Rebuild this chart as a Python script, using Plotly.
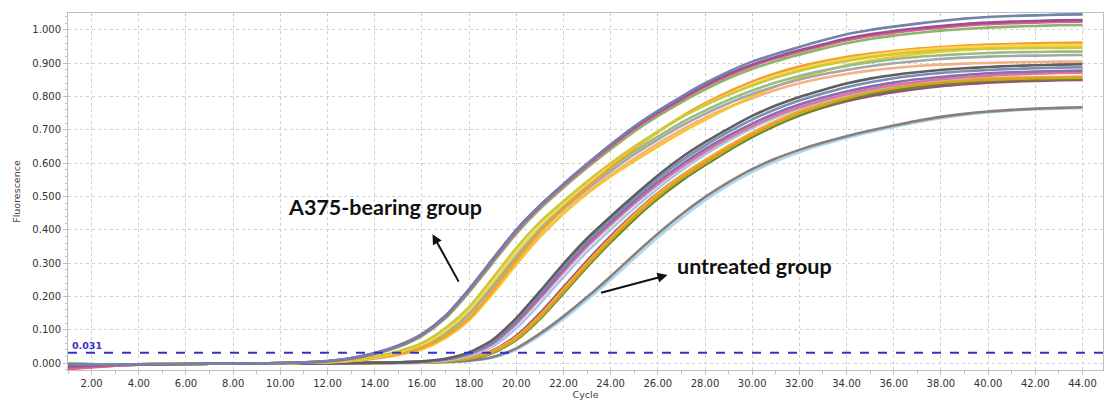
import plotly.graph_objects as go

cycles = list(range(1, 45))

# ---- A375-bearing group ----
a1_slate = [-0.004,-0.005,-0.005,-0.004,-0.003,-0.003,-0.002,-0.002,-0.001,0.000,0.002,0.006,0.014,0.029,0.051,0.085,0.140,0.220,0.310,0.398,0.472,0.537,0.598,0.656,0.710,0.757,0.800,0.840,0.875,0.905,0.928,0.949,0.969,0.987,1.000,1.010,1.019,1.027,1.034,1.039,1.042,1.044,1.046,1.047]
a1_purple = [-0.010,-0.008,-0.006,-0.005,-0.004,-0.003,-0.002,-0.002,-0.001,0.000,0.002,0.006,0.015,0.030,0.053,0.087,0.142,0.222,0.312,0.400,0.473,0.537,0.597,0.654,0.707,0.753,0.795,0.834,0.868,0.896,0.919,0.939,0.957,0.974,0.987,0.997,1.005,1.012,1.018,1.022,1.025,1.027,1.029,1.030]
a1_pink = [-0.018,-0.013,-0.008,-0.005,-0.004,-0.003,-0.002,-0.002,-0.001,0.000,0.002,0.005,0.013,0.028,0.050,0.084,0.138,0.217,0.306,0.394,0.468,0.532,0.592,0.649,0.702,0.748,0.790,0.829,0.863,0.892,0.915,0.935,0.953,0.969,0.982,0.992,1.000,1.007,1.013,1.017,1.020,1.022,1.024,1.025]
a1_green = [-0.002,-0.003,-0.004,-0.004,-0.003,-0.003,-0.002,-0.002,-0.001,0.000,0.002,0.005,0.013,0.027,0.048,0.081,0.134,0.212,0.300,0.388,0.462,0.526,0.586,0.642,0.695,0.741,0.783,0.821,0.855,0.883,0.906,0.926,0.944,0.960,0.973,0.983,0.991,0.998,1.003,1.007,1.010,1.012,1.014,1.015]
a2_yellowgreen = [-0.005,-0.005,-0.004,-0.004,-0.003,-0.003,-0.002,-0.002,-0.001,0.000,0.001,0.004,0.009,0.019,0.035,0.060,0.105,0.168,0.255,0.345,0.423,0.486,0.545,0.600,0.650,0.695,0.738,0.774,0.805,0.833,0.857,0.877,0.894,0.907,0.918,0.927,0.934,0.939,0.942,0.944,0.945,0.946,0.946,0.947]
a2_yellow = [-0.006,-0.005,-0.005,-0.004,-0.003,-0.003,-0.002,-0.002,-0.001,0.000,0.001,0.003,0.008,0.017,0.032,0.055,0.097,0.158,0.243,0.332,0.412,0.478,0.540,0.597,0.648,0.695,0.738,0.775,0.807,0.836,0.861,0.882,0.899,0.913,0.924,0.933,0.940,0.945,0.949,0.951,0.953,0.954,0.955,0.955]
a2_orange = [-0.008,-0.007,-0.006,-0.005,-0.004,-0.003,-0.002,-0.002,-0.001,0.000,0.001,0.003,0.007,0.015,0.027,0.046,0.081,0.135,0.218,0.308,0.392,0.463,0.528,0.588,0.643,0.693,0.740,0.780,0.815,0.845,0.870,0.890,0.906,0.919,0.929,0.937,0.944,0.949,0.953,0.956,0.958,0.960,0.961,0.962]
a2_green = [-0.003,-0.004,-0.004,-0.004,-0.003,-0.003,-0.002,-0.002,-0.001,0.000,0.001,0.003,0.008,0.016,0.030,0.052,0.092,0.152,0.236,0.325,0.404,0.470,0.530,0.585,0.635,0.680,0.722,0.758,0.790,0.818,0.842,0.862,0.878,0.892,0.903,0.912,0.919,0.924,0.928,0.931,0.933,0.934,0.935,0.935]
a2_gray = [-0.004,-0.004,-0.004,-0.004,-0.003,-0.003,-0.002,-0.002,-0.001,0.000,0.001,0.003,0.007,0.015,0.029,0.050,0.088,0.147,0.230,0.318,0.397,0.462,0.522,0.576,0.626,0.671,0.712,0.748,0.780,0.808,0.831,0.851,0.867,0.880,0.891,0.900,0.907,0.913,0.917,0.920,0.922,0.923,0.924,0.925]
a3_golden = [-0.006,-0.006,-0.005,-0.004,-0.003,-0.003,-0.002,-0.002,-0.001,0.000,0.001,0.002,0.006,0.013,0.024,0.041,0.075,0.128,0.208,0.296,0.378,0.448,0.508,0.560,0.606,0.650,0.692,0.730,0.766,0.800,0.830,0.855,0.876,0.894,0.908,0.919,0.928,0.935,0.940,0.944,0.947,0.949,0.950,0.951]
a3_lightorange = [-0.007,-0.006,-0.005,-0.004,-0.003,-0.003,-0.002,-0.002,-0.001,0.000,0.001,0.003,0.007,0.014,0.026,0.044,0.078,0.130,0.210,0.298,0.380,0.450,0.511,0.565,0.614,0.659,0.700,0.737,0.768,0.795,0.820,0.840,0.856,0.868,0.878,0.886,0.892,0.896,0.899,0.901,0.903,0.904,0.905,0.905]

# ---- untreated group ----
b1_darkgray = [-0.003,-0.004,-0.004,-0.004,-0.003,-0.003,-0.002,-0.002,-0.002,-0.002,-0.001,-0.001,0.000,0.001,0.002,0.005,0.013,0.032,0.070,0.135,0.215,0.298,0.374,0.440,0.503,0.563,0.617,0.663,0.704,0.742,0.773,0.799,0.820,0.839,0.854,0.865,0.873,0.880,0.885,0.889,0.892,0.894,0.896,0.897]
b1_slate = [-0.005,-0.005,-0.004,-0.004,-0.003,-0.003,-0.002,-0.002,-0.002,-0.002,-0.001,-0.001,0.000,0.001,0.002,0.004,0.012,0.030,0.066,0.129,0.208,0.290,0.366,0.432,0.495,0.554,0.607,0.653,0.694,0.731,0.762,0.788,0.809,0.828,0.843,0.855,0.864,0.871,0.876,0.880,0.883,0.885,0.887,0.888]
b1_purple = [-0.008,-0.007,-0.005,-0.004,-0.003,-0.003,-0.002,-0.002,-0.002,-0.002,-0.001,-0.001,0.000,0.001,0.002,0.004,0.011,0.028,0.062,0.123,0.200,0.281,0.357,0.423,0.486,0.544,0.596,0.642,0.683,0.719,0.750,0.776,0.797,0.815,0.830,0.842,0.852,0.859,0.865,0.870,0.873,0.875,0.877,0.878]
b1_pink = [-0.016,-0.012,-0.008,-0.005,-0.004,-0.003,-0.002,-0.002,-0.002,-0.002,-0.001,-0.001,0.000,0.001,0.002,0.004,0.010,0.026,0.058,0.117,0.193,0.273,0.349,0.415,0.478,0.536,0.588,0.634,0.675,0.711,0.742,0.768,0.789,0.807,0.822,0.834,0.844,0.852,0.858,0.863,0.867,0.869,0.871,0.872]
b1_lightblue = [-0.004,-0.004,-0.004,-0.004,-0.003,-0.003,-0.002,-0.002,-0.002,-0.002,-0.001,-0.001,0.000,0.000,0.001,0.003,0.008,0.021,0.050,0.104,0.178,0.258,0.334,0.401,0.465,0.524,0.578,0.626,0.668,0.705,0.737,0.764,0.786,0.805,0.820,0.833,0.843,0.851,0.857,0.862,0.866,0.869,0.872,0.874]
b2_gold = [-0.006,-0.006,-0.005,-0.004,-0.003,-0.003,-0.002,-0.002,-0.002,-0.002,-0.001,-0.001,0.000,0.000,0.001,0.002,0.005,0.013,0.032,0.072,0.136,0.214,0.293,0.368,0.438,0.500,0.554,0.600,0.644,0.684,0.719,0.749,0.774,0.795,0.812,0.825,0.835,0.842,0.847,0.851,0.853,0.855,0.856,0.857]
b2_olive = [-0.003,-0.004,-0.004,-0.004,-0.003,-0.003,-0.002,-0.002,-0.002,-0.002,-0.001,-0.001,0.000,0.000,0.001,0.002,0.005,0.012,0.030,0.069,0.132,0.209,0.288,0.362,0.431,0.493,0.547,0.594,0.638,0.678,0.713,0.743,0.768,0.789,0.806,0.819,0.829,0.837,0.843,0.847,0.850,0.851,0.852,0.853]
b2_orange = [-0.007,-0.006,-0.005,-0.004,-0.003,-0.003,-0.002,-0.002,-0.002,-0.002,-0.001,-0.001,0.000,0.000,0.001,0.002,0.006,0.015,0.036,0.078,0.143,0.222,0.301,0.376,0.446,0.508,0.562,0.609,0.652,0.692,0.726,0.756,0.780,0.800,0.817,0.830,0.840,0.847,0.852,0.855,0.857,0.858,0.859,0.860]
b2_plum = [-0.012,-0.010,-0.007,-0.005,-0.004,-0.003,-0.002,-0.002,-0.002,-0.002,-0.001,-0.001,0.000,0.000,0.001,0.002,0.006,0.016,0.038,0.082,0.149,0.228,0.307,0.381,0.449,0.510,0.562,0.607,0.648,0.685,0.717,0.744,0.767,0.786,0.801,0.813,0.823,0.831,0.837,0.842,0.845,0.847,0.849,0.850]
b3_browngray = [-0.003,-0.004,-0.004,-0.004,-0.003,-0.003,-0.002,-0.002,-0.002,-0.002,-0.001,-0.001,-0.001,0.000,0.000,0.001,0.003,0.007,0.018,0.044,0.088,0.140,0.198,0.260,0.325,0.388,0.446,0.498,0.543,0.582,0.614,0.640,0.662,0.681,0.698,0.713,0.727,0.739,0.748,0.755,0.760,0.764,0.766,0.768]
b3_skyblue = [-0.004,-0.004,-0.004,-0.004,-0.003,-0.003,-0.002,-0.002,-0.002,-0.002,-0.001,-0.001,-0.001,0.000,0.000,0.001,0.002,0.006,0.016,0.040,0.082,0.132,0.189,0.250,0.314,0.377,0.435,0.488,0.534,0.573,0.606,0.633,0.656,0.676,0.693,0.709,0.723,0.735,0.745,0.752,0.758,0.762,0.764,0.765]

threshold = 0.031

series = [
    (b3_skyblue, "#A9D8F2"), (b3_browngray, "#8B7D78"),
    (b2_plum, "#A04A82"), (b2_olive, "#5E8A2A"), (b2_orange, "#F0A830"), (b2_gold, "#D9A21E"),
    (b1_lightblue, "#A3C9EA"), (b1_pink, "#E2739D"), (b1_purple, "#8C6BB1"), (b1_slate, "#7B8DB0"), (b1_darkgray, "#5F5F5F"),
    (a3_lightorange, "#F4B183"), (a3_golden, "#F7C531"), (a2_gray, "#A6A6A6"), (a2_green, "#93BE84"),
    (a2_orange, "#F0A12E"), (a2_yellow, "#FFD34D"), (a2_yellowgreen, "#C9C93A"),
    (a1_green, "#8AB66A"), (a1_pink, "#E0608A"), (a1_purple, "#9B4F96"), (a1_slate, "#7083A8"),
]

fig = go.Figure()
for vals, col in series:
    fig.add_trace(go.Scatter(x=cycles[:len(vals)], y=vals, mode="lines",
                             line=dict(color=col, width=2.6, shape="spline", smoothing=0.7),
                             showlegend=False, hoverinfo="skip"))

fig.add_shape(type="line", xref="paper", x0=0, x1=1, yref="y", y0=threshold, y1=threshold,
              line=dict(color="#3232C8", width=2, dash="dash"))
fig.add_annotation(xref="paper", x=0, xanchor="left", xshift=2, y=threshold, yanchor="bottom",
                   text="<b>%.3f</b>" % threshold, showarrow=False,
                   font=dict(family="DejaVu Sans", size=9.5, color="#3232C8"))

fig.add_annotation(x=14.45, y=0.468, text="<b>A375-bearing group</b>", showarrow=False,
                   font=dict(family="Lato", size=21.5, color="#111111"))
fig.add_annotation(x=30.1, y=0.291, text="<b>untreated group</b>", showarrow=False,
                   font=dict(family="Lato", size=21.5, color="#111111"))
fig.add_annotation(x=16.45, y=0.387, ax=27, ay=49, axref="pixel", ayref="pixel", text="",
                   showarrow=True, arrowhead=2, arrowsize=1, arrowwidth=2, arrowcolor="#111111")
fig.add_annotation(x=26.41, y=0.264, ax=-68, ay=18, axref="pixel", ayref="pixel", text="",
                   showarrow=True, arrowhead=2, arrowsize=1, arrowwidth=2, arrowcolor="#111111")

tickfont = dict(family="DejaVu Sans", size=10, color="#333333")
fig.update_layout(
    width=1105, height=408,
    margin=dict(l=68, r=2, t=13, b=38),
    paper_bgcolor="white", plot_bgcolor="white",
    font=dict(family="DejaVu Sans", color="#333333"),
    xaxis=dict(range=[1, 44.87], tick0=2, dtick=2, tickformat=".2f", tickfont=tickfont,
               showgrid=True, gridcolor="#D0D0D0", griddash="dot", gridwidth=1,
               showline=True, linecolor="#C0C0C0", mirror=True, ticks="outside", ticklen=4,
               tickcolor="#C0C0C0", zeroline=False,
               minor=dict(dtick=1, ticks="outside", ticklen=3, tickcolor="#C0C0C0", showgrid=False),
               title=dict(text="Cycle", font=dict(family="DejaVu Sans", size=9.5, color="#404040"), standoff=2)),
    yaxis=dict(range=[-0.021, 1.051], tick0=0, dtick=0.1, tickformat=".3f", tickfont=tickfont,
               showgrid=True, gridcolor="#D0D0D0", griddash="dot", gridwidth=1,
               showline=True, linecolor="#C0C0C0", mirror=True, ticks="outside", ticklen=4,
               tickcolor="#C0C0C0", zeroline=False,
               minor=dict(dtick=0.02, ticks="outside", ticklen=2, tickcolor="#C0C0C0", showgrid=False),
               title=dict(text="Fluorescence", font=dict(family="DejaVu Sans", size=9.5, color="#404040"), standoff=10)),
)

fig.write_html("out.html")
